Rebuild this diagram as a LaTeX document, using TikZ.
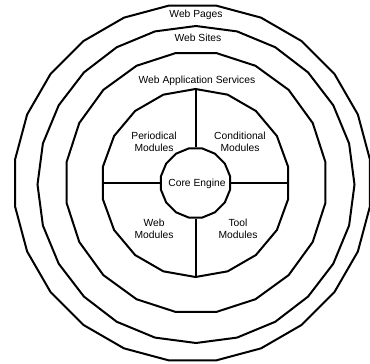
\documentclass[tikz,border=0pt]{standalone}
\usepackage{fontspec}
\setmainfont{Liberation Sans}
\usetikzlibrary{shapes.geometric}

\begin{document}
\begin{tikzpicture}
        [x=1pt,y=-1pt,
         every node/.style={font=\fontsize{10.3}{12.5}\selectfont,align=center},
         ring/.style={draw=black,line width=2pt,regular polygon,inner sep=0pt},
         spoke/.style={draw=black,line width=2pt}]
        \useasboundingbox[fill=white] (0,0) rectangle (370,364);
        % layers, outside in
        \node[ring,regular polygon sides=24,minimum size=358pt] (pages) at (192.5,183) {};
        \node[ring,regular polygon sides=24,regular polygon rotate=7.5,minimum size=317pt] (sites) at (196,184.5) {};
        \node[ring,regular polygon sides=20,minimum size=262pt] (services) at (196,182.5) {};
        \node[ring,regular polygon sides=18,regular polygon rotate=10,minimum size=188pt] (modules) at (195.5,183) {};
        \node[ring,regular polygon sides=16,minimum size=70.4pt] (core) at (195.5,183) {};
        % spokes
        \draw[spoke] (core.north) -- (modules.north);
        \draw[spoke] (core.south) -- (modules.south);
        \draw[spoke] (core.west) -- (modules.west);
        \draw[spoke] (core.east) -- (modules.east);
        % labels
        \node (pagestext) at (196,15) {Web Pages};
        \node (sitestext) at (198,38) {Web Sites};
        \node (servicestext) at (197,81) {Web Application Services};
        \node (periodical) at (154,142) {Periodical\\Modules};
        \node (conditional) at (240,142) {Conditional\\Modules};
        \node (web) at (154,229) {Web\\Modules};
        \node (tool) at (238,229) {Tool\\Modules};
        \node (coretext) at (197,184) {Core Engine};
\end{tikzpicture}
\end{document}
